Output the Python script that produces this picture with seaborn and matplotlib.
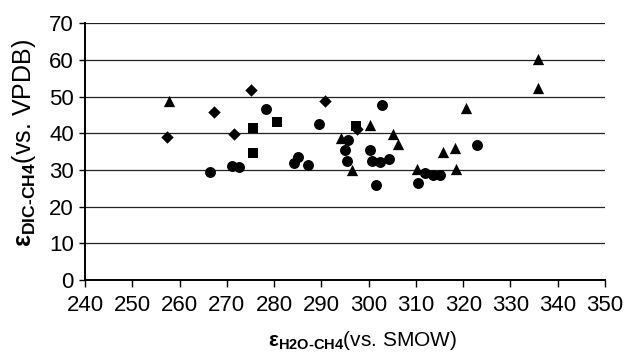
import matplotlib
matplotlib.use("Agg")
import matplotlib.pyplot as plt
import seaborn as sns
import pandas as pd

# Fractionation factors: epsilon H2O-CH4 (x) vs epsilon DIC-CH4 (y)
circle_x = [266.4, 271.2, 272.6, 278.2, 284.2, 285.0, 287.1, 289.5, 295.7, 295.1, 295.4,
            300.3, 300.7, 301.5, 302.4, 302.9, 304.4, 310.5, 311.9, 313.7, 315.2, 322.9]
circle_y = [29.4, 31.1, 30.7, 46.5, 31.9, 33.6, 31.4, 42.5, 38.1, 35.4, 32.5,
            35.4, 32.5, 26.0, 32.3, 47.7, 33.1, 26.4, 29.2, 28.6, 28.6, 36.8]

triangle_x = [257.8, 294.1, 296.5, 300.2, 305.1, 306.2, 310.3, 315.8, 318.3, 318.5,
              320.6, 335.9, 335.9]
triangle_y = [48.9, 38.8, 30.0, 42.3, 39.8, 37.2, 30.2, 34.8, 35.9, 30.2,
              46.8, 60.2, 52.3]

diamond_x = [257.3, 267.3, 271.5, 275.1, 290.8, 297.5]
diamond_y = [39.1, 45.7, 39.8, 51.8, 48.8, 41.3]

square_x = [275.5, 275.6, 280.7, 297.3]
square_y = [41.4, 34.7, 43.2, 42.1]

x_ticks = list(range(240, 351, 10))
y_ticks = list(range(0, 71, 10))

sns.set_theme(style="white")
plt.rcParams["font.family"] = ["Liberation Sans", "DejaVu Sans"]
plt.rcParams["mathtext.fontset"] = "custom"
plt.rcParams["mathtext.rm"] = "Liberation Sans"
plt.rcParams["mathtext.bf"] = "Liberation Sans:bold"
plt.rcParams["mathtext.it"] = "Liberation Sans:italic"

fig = plt.figure(figsize=(6.27, 3.58), dpi=100)
ax = fig.add_axes([85 / 627, 1 - 280 / 358, 520 / 627, (280 - 23.3) / 358])

groups = [
    (diamond_x, diamond_y, "D", 40),
    (triangle_x, triangle_y, "^", 66),
    (square_x, square_y, "s", 54),
    (circle_x, circle_y, "o", 62),
]
for xs, ys, mk, size in groups:
    df = pd.DataFrame({"x": xs, "y": ys})
    sns.scatterplot(data=df, x="x", y="y", marker=mk, s=size, color="black",
                    edgecolor="black", linewidth=0, ax=ax, zorder=3)

ax.set_xlim(240, 350)
ax.set_ylim(0, 70)
ax.set_xticks(x_ticks)
ax.set_yticks(y_ticks)
ax.yaxis.grid(True, color="#222222", linewidth=0.9)
ax.xaxis.grid(False)
ax.set_axisbelow(True)

for side in ("top", "right"):
    ax.spines[side].set_visible(False)
for side in ("left", "bottom"):
    ax.spines[side].set_color("black")
    ax.spines[side].set_linewidth(1.4)

ax.tick_params(axis="both", which="major", direction="out", width=1.0,
               color="black", labelsize=16, labelcolor="black",
               bottom=True, left=True)
ax.tick_params(axis="x", length=5, pad=6)
ax.tick_params(axis="y", length=4, pad=4)

ax.set_xlabel(r"$\mathbf{ε_{H2O‐CH4}}$(vs. SMOW)", fontsize=15, color="black")
ax.set_ylabel(r"$\mathbf{ε_{DIC‐CH4}}$(vs. VPDB)", fontsize=18, color="black")
ax.xaxis.set_label_coords((363 - 85) / 520, -(340 - 280) / 256.7)
ax.yaxis.set_label_coords(-(85 - 24) / 520, (280 - 143) / 256.7)
ax.xaxis.label.set_verticalalignment("center")
ax.yaxis.label.set_verticalalignment("center")

fig.savefig("out.png", dpi=100)
